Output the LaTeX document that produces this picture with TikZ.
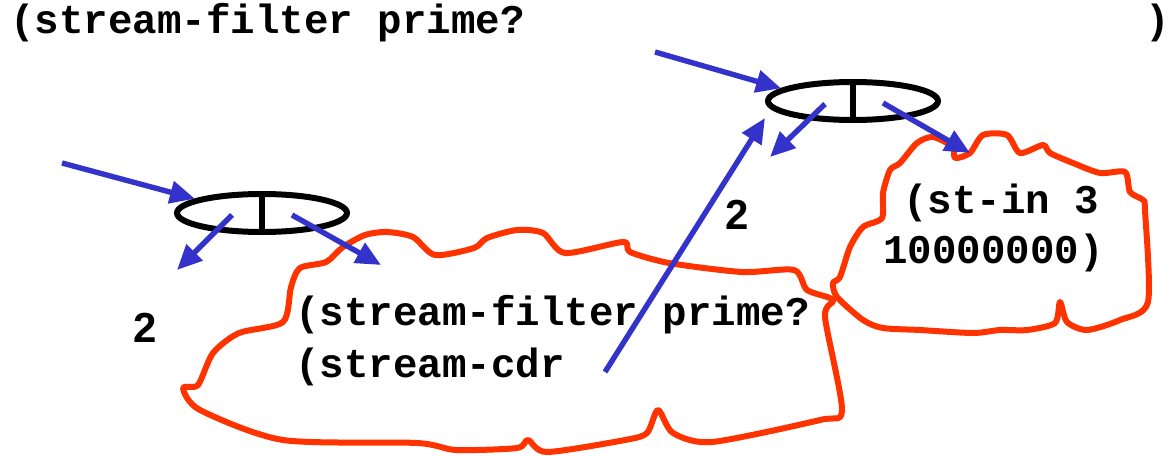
\documentclass[tikz,border=0pt]{standalone}
\usepackage{fontspec}
\setmonofont{Liberation Mono}
\setsansfont{Liberation Sans}
\usetikzlibrary{shapes,arrows.meta,positioning,calc}

\definecolor{cloudred}{HTML}{FF3300}
\definecolor{ptrblue}{HTML}{3333CC}

\tikzset{
  code/.style={font=\fontsize{20.4pt}{24pt}\selectfont\ttfamily\bfseries, inner sep=0pt, anchor=base west},
  num/.style={font=\fontsize{21pt}{24pt}\selectfont\sffamily\bfseries, inner sep=0pt},
  pair/.style={draw, ellipse, line width=3pt, minimum width=85pt, minimum height=19pt, inner sep=0pt},
  ptr/.style={draw=ptrblue, line width=2.7pt, -{Triangle[length=12.5pt,width=11pt]}},
  cloudline/.style={draw=cloudred, line width=3pt, line join=round}
}

\begin{document}
\begin{tikzpicture}[x=0.5pt, y=-0.5pt]
\useasboundingbox (0,0) rectangle (1172,455);

% outer expression
\node[code] (outer) at (10,33) {(stream-filter prime?};
\node[code] (close) at (1145,33) {)};

% big cloud
\draw[cloudline] plot[smooth cycle, tension=0.45] coordinates {
  (183,388) (198,385) (213,353) (239,333) (283,322) (291,287) (300,268)
  (326,262) (343,247) (365,235) (387,232) (413,237) (435,255) (474,248)
  (487,238) (517,230) (543,233) (565,253) (623,242) (630,252) (669,263)
  (742,272) (794,270) (807,290) (833,300) (825,317) (842,410) (820,420)
  (712,442) (673,433) (658,410) (647,433) (625,440) (547,452) (528,440)
  (517,448) (456,450) (417,443) (283,440) (200,410)};

% small cloud
\draw[cloudline] plot[smooth cycle, tension=0.45] coordinates {
  (833,283) (840,277) (850,247) (863,227) (882,218) (883,193) (890,170)
  (900,163) (917,143) (933,137) (953,147) (955,158) (970,153) (983,135)
  (1007,135) (1020,153) (1043,145) (1050,153) (1073,163) (1100,173)
  (1125,172) (1130,192) (1143,200) (1145,210) (1148,302) (1120,320)
  (1087,330) (1067,322) (1060,302) (1055,323) (1027,330) (1000,330)
  (973,333) (920,330) (883,328) (863,320) (837,297)};

% texts in the clouds
\node[code] (filter) at (295,325) {(stream-filter prime?};
\node[code] (cdr) at (295,377) {(stream-cdr};
\node[code] (stin) at (903,213) {(st-in 3};
\node[code] (big) at (883,263) {10000000)};

% first pair
\node[pair] (cellA) at (262,213) {};
\draw[line width=3pt] (cellA.north) -- (cellA.south);
\coordinate (inA) at (62,163);
\coordinate (carA) at (232,215);
\coordinate (cdrA) at (292,215);
\coordinate (carAend) at (177,270);
\coordinate (cdrAend) at (381,265);
\draw[ptr] (inA) -- (cellA.168);
\draw[ptr] (carA) -- (carAend);
\draw[ptr] (cdrA) -- (cdrAend);
\node[num] (twoA) at (145,328) {2};

% second pair
\node[pair] (cellB) at (853,101) {};
\draw[line width=3pt] (cellB.north) -- (cellB.south);
\coordinate (inB) at (655,52);
\coordinate (carB) at (825,104);
\coordinate (cdrB) at (883,103);
\coordinate (carBend) at (770,157);
\coordinate (cdrBend) at (970,153);
\coordinate (fromCdr) at (605,372);
\draw[ptr] (inB) -- (cellB.170);
\draw[ptr] (carB) -- (carBend);
\draw[ptr] (cdrB) -- (cdrBend);
\draw[ptr] (fromCdr) -- ($(cellB.west)+(0,17)$);
\node[num] (twoB) at (737,215) {2};
\end{tikzpicture}
\end{document}
